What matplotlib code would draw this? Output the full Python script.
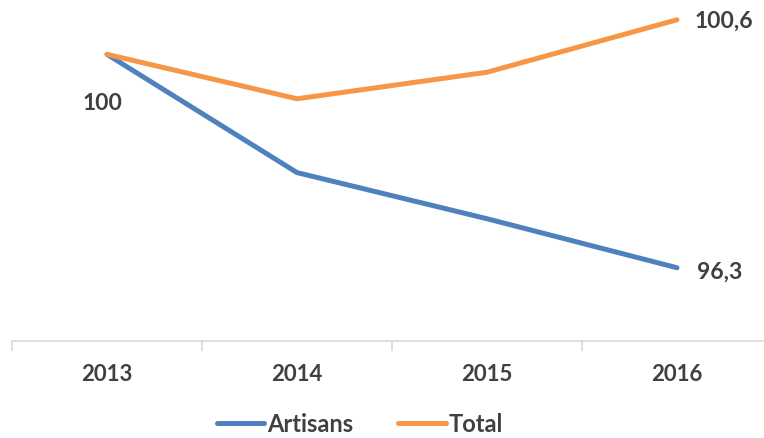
import matplotlib.pyplot as plt

years = ["2013", "2014", "2015", "2016"]
artisans = [100, 97.95, 97.15, 96.3]
total = [100, 99.23, 99.69, 100.6]

plt.rcParams['font.family'] = ['Lato', 'DejaVu Sans']

fig = plt.figure(figsize=(7.64, 4.39), dpi=100)
ax = fig.add_axes([12 / 764, 1 - 342 / 439, 760 / 764, 342 / 439])

x = range(len(years))
ax.plot(x, artisans, color="#4F81BD", lw=3.6, solid_capstyle="round", label="Artisans")
ax.plot(x, total, color="#F79646", lw=3.6, solid_capstyle="round", label="Total")

ax.set_xlim(-0.5, 3.5)
ax.set_ylim(95.03, 100.96)

txt = dict(color="#404040", fontsize=16.5, fontweight="bold")
ax.annotate("100", (0, 100), xytext=(-5, -48), textcoords="offset pixels",
            ha="center", va="center", **txt)
ax.annotate("100,6", (3, total[3]), xytext=(18, 0), textcoords="offset pixels",
            ha="left", va="center", **txt)
ax.annotate("96,3", (3, artisans[3]), xytext=(20, -3), textcoords="offset pixels",
            ha="left", va="center", **txt)

for s in ["top", "right", "left"]:
    ax.spines[s].set_visible(False)
ax.spines["bottom"].set_color("#D9D9D9")
ax.spines["bottom"].set_linewidth(1.2)
ax.set_yticks([])
ax.set_xticks([-0.5, 0.5, 1.5, 2.5, 3.5])
ax.set_xticklabels([])
ax.set_xticks(list(x), minor=True)
ax.set_xticklabels(years, minor=True, color="#404040", fontsize=16, fontweight="bold")
ax.tick_params(axis="x", which="major", length=7, color="#D9D9D9", width=1.2)
ax.tick_params(axis="x", which="minor", length=0, pad=16)

fig.legend(loc="center", bbox_to_anchor=(360 / 764, 1 - 425 / 439), ncol=2, frameon=False,
           prop=dict(size=17, weight="bold"), labelcolor="#404040",
           handlelength=2.0, handletextpad=0.15, columnspacing=1.9)

fig.savefig("out.png", dpi=100)
